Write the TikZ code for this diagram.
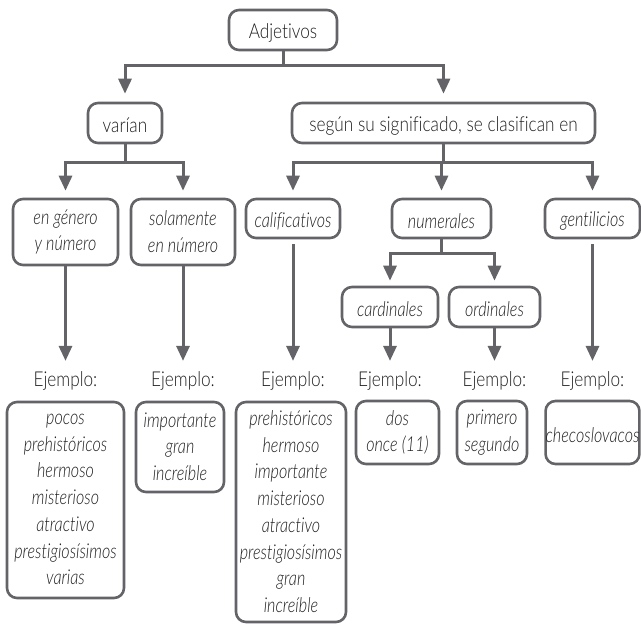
\documentclass[tikz,border=0pt]{standalone}
\usepackage{fontspec}
\IfFontExistsTF{Lato Light}{%
  \setmainfont{Lato Light}[Ligatures=NoCommon, FakeStretch=0.84, ItalicFont={Lato Light Italic}, ItalicFeatures={FakeStretch=0.79}]%
}{%
  \setmainfont{Carlito}[FakeStretch=0.83, ItalicFeatures={FakeStretch=0.77}]%
}
\usetikzlibrary{arrows.meta}
\definecolor{lc}{HTML}{646468}
\definecolor{tc}{HTML}{1E1E1E}
\tikzset{
 box/.style={draw=lc, line width=2.6pt, rounded corners=10pt, inner sep=0pt, align=center, text=tc,
   font=\fontsize{20.5}{26.7}\selectfont,
   execute at begin node=\rule[-1pt]{0pt}{21pt},
   execute at end node=\rule[-1pt]{0pt}{21pt}},
 ibox/.style={box, font=\fontsize{20.5}{26.7}\selectfont\itshape},
 lab/.style={inner sep=0pt, text=tc, font=\fontsize{20.5}{26.7}\selectfont, anchor=base},
 conn/.style={draw=lc, line width=3pt},
 arr/.style={conn, -{Triangle[width=13pt,length=15pt]}},
}
\begin{document}
\begin{tikzpicture}[x=1pt,y=-1pt]
\useasboundingbox (0,0) rectangle (641,624);
% level 0-1
\node[box, minimum width=108pt, minimum height=40pt] (adj) at (283,30) {Adjetivos};
\node[box, minimum width=74pt, minimum height=40pt] (var) at (125,123) {varían};
\node[box, minimum width=303pt, minimum height=40pt] (seg) at (443.5,123) {según su significado, se clasifican en};
% level 2
\node[ibox, minimum width=105pt, minimum height=66pt] (gen) at (65.5,232) {en género\\y número};
\node[ibox, minimum width=104pt, minimum height=66pt] (sol) at (183,232) {solamente\\en número};
\node[ibox, minimum width=94pt, minimum height=39pt] (cal) at (293,218.5) {calificativos};
\node[ibox, minimum width=99pt, minimum height=39pt] (num) at (441.5,218.5) {numerales};
\node[ibox, minimum width=95pt, minimum height=39pt] (gent) at (592.5,218.5) {gentilicios};
\node[ibox, minimum width=96pt, minimum height=40pt] (card) at (390,307) {cardinales};
\node[ibox, minimum width=91pt, minimum height=40pt] (ord) at (494.5,307) {ordinales};
% labels
\node[lab] (ej1) at (65.5,386) {Ejemplo:};
\node[lab] (ej2) at (183,386) {Ejemplo:};
\node[lab] (ej3) at (293,386) {Ejemplo:};
\node[lab] (ej4) at (390,386) {Ejemplo:};
\node[lab] (ej5) at (494.5,386) {Ejemplo:};
\node[lab] (ej6) at (592.5,386) {Ejemplo:};
% example boxes
\node[ibox, minimum width=117pt, minimum height=196pt] (ex1) at (65.5,500) {pocos\\prehistóricos\\hermoso\\misterioso\\atractivo\\prestigiosísimos\\varias};
\node[ibox, minimum width=88pt, minimum height=90pt] (ex2) at (180,447) {importante\\gran\\increíble};
\node[ibox, minimum width=110pt, minimum height=220pt] (ex3) at (291,512) {prehistóricos\\hermoso\\importante\\misterioso\\atractivo\\prestigiosísimos\\gran\\increíble};
\node[ibox, minimum width=83pt, minimum height=63pt] (ex4) at (397.5,432.5) {dos\\once (11)};
\node[ibox, minimum width=70pt, minimum height=63pt] (ex5) at (492,432.5) {primero\\segundo};
\node[ibox, minimum width=93pt, minimum height=63pt] (ex6) at (592.5,432.5) {checoslovacos};
% connectors
\draw[conn] (adj.south) -- ++(0,14) coordinate (j1);
\draw[arr, shorten >=8pt] (j1) -| (var.north);
\draw[arr, shorten >=8pt] (j1) -| (seg.north);
\draw[conn] (var.south) -- ++(0,18) coordinate (j2);
\draw[arr, shorten >=7pt] (j2) -| (gen.north);
\draw[arr, shorten >=7pt] (j2) -| (sol.north);
\draw[conn] (seg.south) -- ++(0,18) coordinate (j3);
\draw[arr, shorten >=7pt] (j3) -| (cal.north);
\draw[arr, shorten >=7pt] (j3) -| (num.north);
\draw[arr, shorten >=7pt] (j3) -| (gent.north);
\draw[conn] (num.south) -- ++(0,14) coordinate (j4);
\draw[arr, shorten >=5pt] (j4) -| (card.north);
\draw[arr, shorten >=5pt] (j4) -| (ord.north);
\draw[arr, shorten >=10pt] (gen.south) -- (gen.south |- ej1.north);
\draw[arr, shorten >=10pt] (sol.south) -- (sol.south |- ej2.north);
\draw[arr, shorten >=10pt, shorten <=5pt] (cal.south) -- (cal.south |- ej3.north);
\draw[arr, shorten >=10pt] (card.south) -- (card.south |- ej4.north);
\draw[arr, shorten >=10pt] (ord.south) -- (ord.south |- ej5.north);
\draw[arr, shorten >=10pt, shorten <=5pt] (gent.south) -- (gent.south |- ej6.north);
\end{tikzpicture}
\end{document}
